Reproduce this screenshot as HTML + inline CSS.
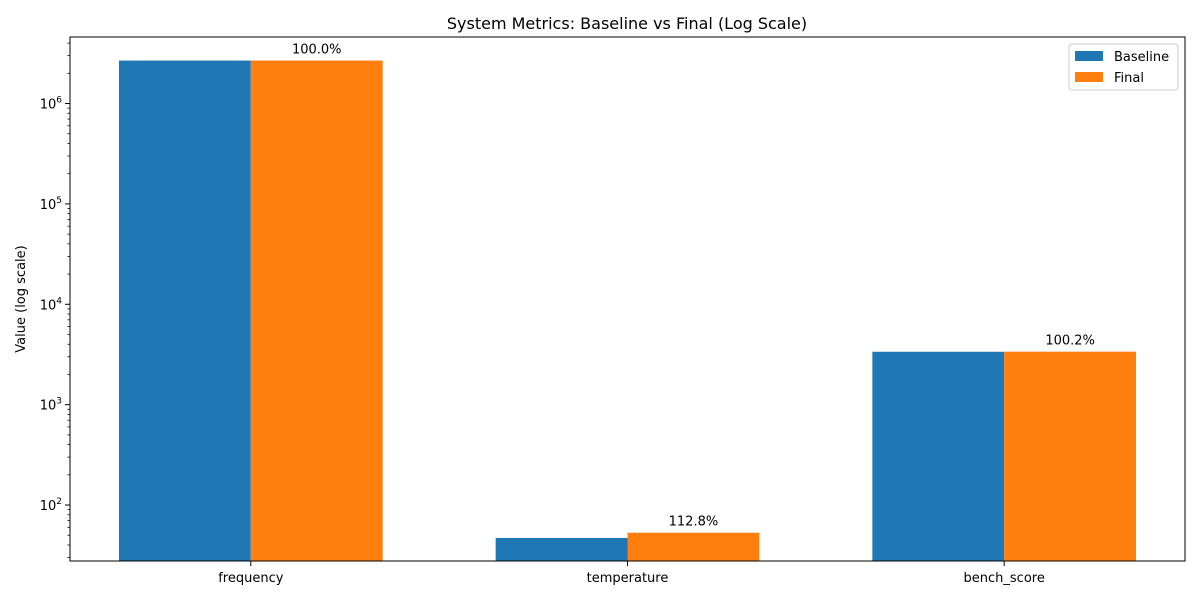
<!DOCTYPE html>
<html><head><meta charset="utf-8"><style>
body{margin:0;background:#fff;}
text{font-family:"DejaVu Sans","Liberation Sans",sans-serif;}
</style></head><body>
<svg id="chart" width="1200" height="600" xmlns="http://www.w3.org/2000/svg">
<rect width="1200" height="600" fill="#fff"/>
<text x="627" y="29" font-size="16" text-anchor="middle">System Metrics: Baseline vs Final (Log Scale)</text>
<text transform="translate(25,299) rotate(-90)" font-size="13" text-anchor="middle">Value (log scale)</text>
<g id="bars"></g><g id="axes"></g>
<rect x="70" y="37" width="1115" height="524" fill="none" stroke="#000" stroke-width="1"/>
<g>
<rect x="1069" y="44" width="109" height="46" fill="#fff" stroke="#ccc" rx="3"/>
<rect x="1075" y="51" width="28" height="10" fill="#1f77b4"/>
<text x="1114" y="61" font-size="13">Baseline</text>
<rect x="1075" y="72" width="28" height="10" fill="#ff7f0e"/>
<text x="1114" y="82" font-size="13">Final</text>
</g>
</svg>
<script>
const categories=["frequency","temperature","bench_score"];
const baseline=[2680000,47,3365];
const finalVals=[2680000,53,3372];
const yTicks=[2,3,4,5,6];
const NS="http://www.w3.org/2000/svg";
const L=70,R=1185,T=37,B=561;
const yMin=Math.log10(27.7),yMax=Math.log10(4.6e6);
function y(v){return B-(Math.log10(v)-yMin)/(yMax-yMin)*(B-T);}
const xMin=-0.48,xMax=2.48;
function x(i){return L+(i-xMin)/(xMax-xMin)*(R-L);}
const bw=0.35*(R-L)/(xMax-xMin);
function mk(tag,attrs,parent){const e=document.createElementNS(NS,tag);for(const k in attrs)e.setAttribute(k,attrs[k]);parent.appendChild(e);return e;}
const bars=document.getElementById('bars'),axes=document.getElementById('axes');
categories.forEach((c,i)=>{
 const cx=x(i);
 const b=mk('rect',{x:cx-bw,y:y(baseline[i]),width:bw,height:B-y(baseline[i]),fill:'#1f77b4'},bars);
 
 
 const f=mk('rect',{x:cx,y:y(finalVals[i]),width:bw,height:B-y(finalVals[i]),fill:'#ff7f0e'},bars);
 
 
 const t=mk('text',{x:cx+bw/2,y:y(finalVals[i])-7,'font-size':13,'text-anchor':'middle'},bars);
 t.textContent=(finalVals[i]/baseline[i]*100).toFixed(1)+'%';
 
 
 mk('line',{x1:cx,x2:cx,y1:B,y2:B+5,stroke:'#000'},axes);
 const xl=mk('text',{x:cx,y:B+21,'font-size':13,'text-anchor':'middle'},axes);
 xl.textContent=c;
 
 
});
for(let d=1;d<=6;d++){for(let m=2;m<=9;m++){const v=m*Math.pow(10,d);if(v<27.7||v>4.6e6)continue;mk('line',{x1:L-2.5,x2:L,y1:y(v),y2:y(v),stroke:'#000','stroke-width':0.8},axes);}}
yTicks.forEach(p=>{
 const yy=y(Math.pow(10,p));
 mk('line',{x1:L-5,x2:L,y1:yy,y2:yy,stroke:'#000'},axes);
 const t=mk('text',{x:L-8,y:yy+5,'font-size':13,'text-anchor':'end'},axes);
 t.innerHTML='10<tspan dy="-6" font-size="9">'+p+'</tspan>';
 
 
});
</script>
</body></html>
